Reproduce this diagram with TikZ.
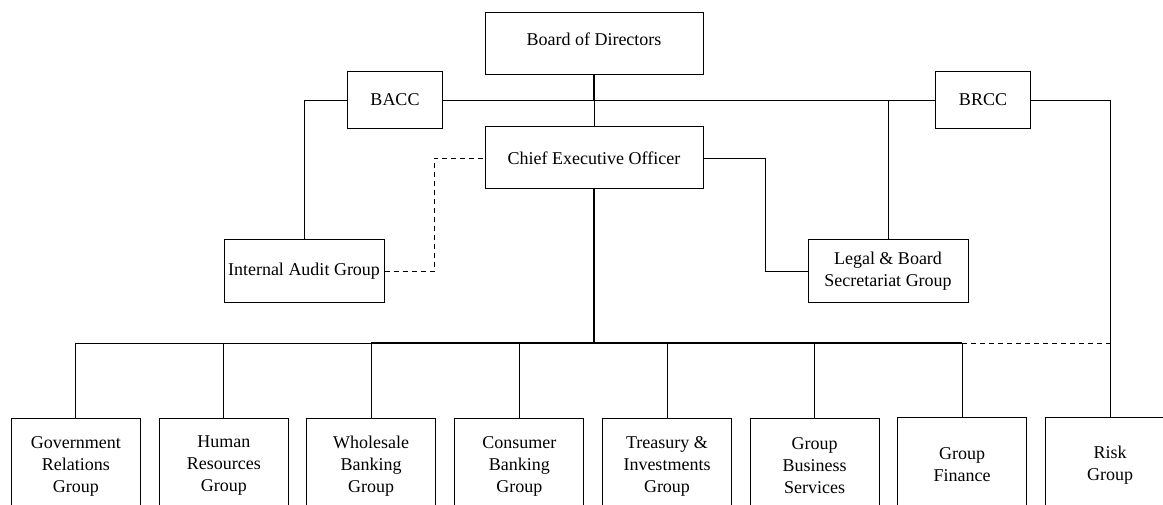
\documentclass[tikz,border=0pt]{standalone}
\usepackage{fontspec}
\setmainfont{Liberation Serif}
\begin{document}
\begin{tikzpicture}[x=1pt,y=-1pt,
  box/.style={draw, line width=1pt, fill=white, inner sep=2pt, align=center, font=\fontsize{18}{22}\selectfont},
  child/.style={box, minimum width=129pt, minimum height=96pt},
  conn/.style={line width=0.9pt},
  dconn/.style={line width=0.9pt, dash pattern=on 5pt off 4pt},
  trunk/.style={line width=1.5pt}]
\useasboundingbox (0,0) rectangle (1163,505);
\clip (0,0) rectangle (1163,505);
% top level
\node[box, minimum width=218pt, minimum height=62pt, text depth=10pt] (board) at (594,44) {Board of Directors};
\node[box, minimum width=95.5pt, minimum height=57pt] (bacc) at (395,100) {BACC};
\node[box, minimum width=95pt, minimum height=57pt] (brcc) at (983,100) {BRCC};
\node[box, minimum width=218pt, minimum height=62pt] (ceo) at (594,158) {Chief Executive Officer};
\node[box, minimum width=160pt, minimum height=63pt] (audit) at (304,271.5) {Internal Audit Group};
\node[box, minimum width=160pt, minimum height=63pt] (legal) at (888,271.5) {Legal \& Board\\Secretariat Group};
% children
\node[child] (g1) at (75.8,466) {Government\\Relations\\Group};
\node[child] (g2) at (223.9,466) {Human\\Resources\\Group};
\node[child] (g3) at (371.2,466) {Wholesale\\Banking\\Group};
\node[child] (g4) at (519.3,466) {Consumer\\Banking\\Group};
\node[child] (g5) at (667,466) {Treasury \&\\Investments\\Group};
\node[child] (g6) at (814.6,466) {Group\\Business\\Services};
\node[child] (g7) at (962,465) {Group\\Finance};
\node[child] (g8) at (1110,465) {Risk\\Group};
% junctions
\coordinate (jtop) at (594,100);
\coordinate (bus) at (594,343);
% connectors
\draw[trunk] (board.south) -- (jtop);
\draw[conn] (jtop) -- (ceo.north);
\draw[conn] (bacc.east) -- (brcc.west);
\draw[conn] (bacc.west) -| (audit.north);
\draw[conn] (legal.north) -- (legal.north |- brcc.west);
\draw[conn] (brcc.east) -| (g8.north);
\draw[conn] (ceo.east) -- ++(61.5,0) |- (legal.west);
\draw[dconn] (audit.east) -- ++(50,0) |- (ceo.west);
\draw[trunk] (ceo.south) -- (bus);
\draw[conn] (bus -| g3.north) -| (g1.north);
\draw[trunk] (bus -| g3.north) -- (bus -| g7.north);
\foreach \g in {g2,g3,g4,g5,g6,g7}{
  \draw[conn] (\g.north) -- (bus -| \g.north);
}
\draw[dconn] (bus -| g7.north) -- (bus -| g8.north);
\end{tikzpicture}
\end{document}
